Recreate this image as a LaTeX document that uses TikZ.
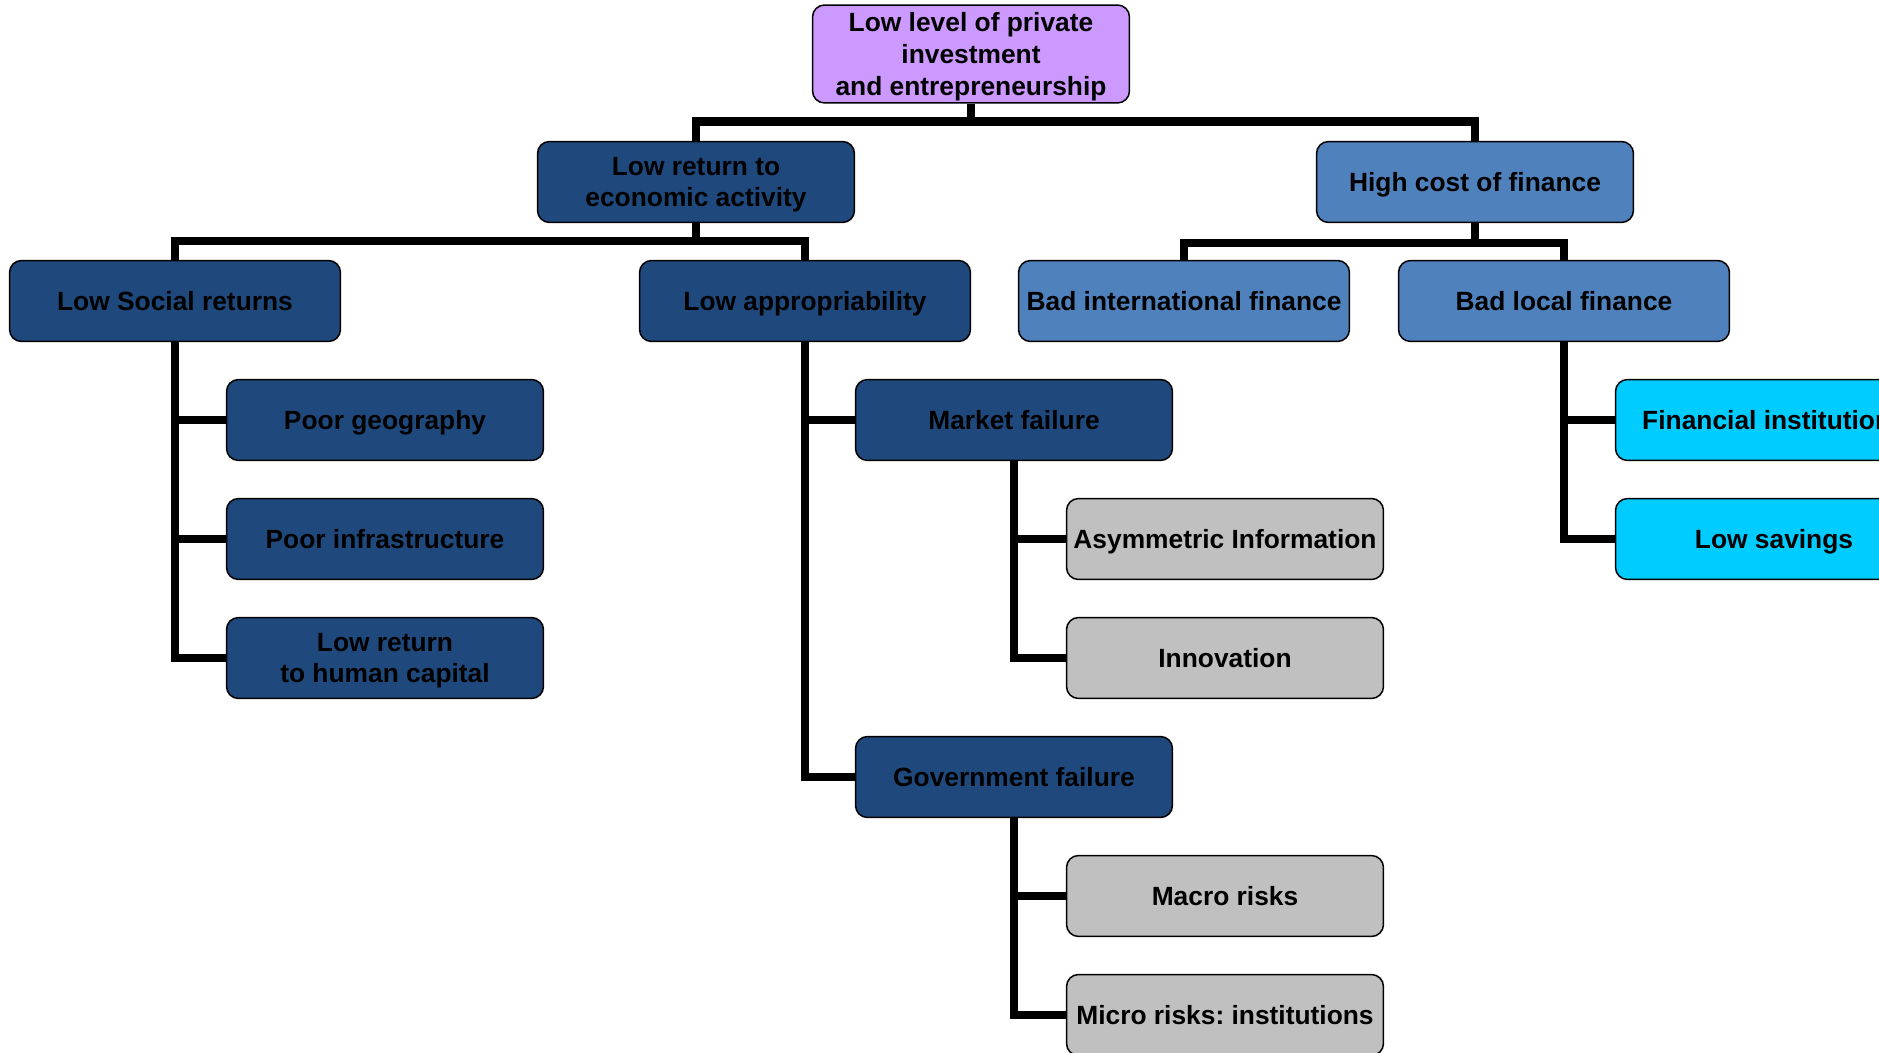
\documentclass[tikz,border=0pt]{standalone}
\usepackage{fontspec}
\setmainfont{Liberation Sans}
\usetikzlibrary{positioning}
\frenchspacing

\definecolor{topviolet}{RGB}{204,153,255}
\definecolor{darkblue}{RGB}{31,73,125}
\definecolor{midblue}{RGB}{79,129,189}
\definecolor{skyblue}{RGB}{0,204,255}
\definecolor{lightgray}{RGB}{192,192,192}

\tikzset{
  box/.style={draw=black, line width=0.03cm, rounded corners=0.24cm,
    minimum width=6.34cm, minimum height=1.62cm, align=center,
    inner sep=0pt, text depth=0pt, font=\fontsize{15}{18}\selectfont\bfseries},
  rootbox/.style={box, fill=topviolet, minimum height=1.96cm},
  darkbox/.style={box, fill=darkblue},
  widebox/.style={box, minimum width=6.62cm},
  finbox/.style={box, fill=midblue},
  cyanbox/.style={box, fill=skyblue},
  graybox/.style={box, fill=lightgray},
  link/.style={line width=0.17cm, line join=miter}
}

\begin{document}
\begin{tikzpicture}[x=0.02cm,y=-0.02cm]
  \clip (0,0) rectangle (1879,1053);
  \fill[white] (0,0) rectangle (1879,1053);

  % top of the tree
  \node[rootbox] (root) at (971,54) {Low level of private\\investment\\and entrepreneurship};
  \node[darkbox] (ret) at (696,182) {Low return to\\economic activity};
  \node[finbox] (fin) at (1475,182) {High cost of finance};

  % second row
  \node[darkbox,widebox] (soc) at (175,301) {Low Social returns};
  \node[darkbox,widebox] (app) at (805,301) {Low appropriability};
  \node[finbox,widebox] (intl) at (1184,301) {Bad international finance};
  \node[finbox,widebox] (loc) at (1564,301) {Bad local finance};

  % social returns
  \node[darkbox] (geo) at (385,420) {Poor geography};
  \node[darkbox] (infra) at (385,539) {Poor infrastructure};
  \node[darkbox] (human) at (385,658) {Low return\\to human capital};

  % appropriability
  \node[darkbox] (mkt) at (1014,420) {Market failure};
  \node[graybox] (asym) at (1225,539) {Asymmetric Information};
  \node[graybox] (innov) at (1225,658) {Innovation};
  \node[darkbox] (gov) at (1014,777) {Government failure};
  \node[graybox] (macro) at (1225,896) {Macro risks};
  \node[graybox] (micro) at (1225,1015) {Micro risks: institutions};

  % local finance
  \node[cyanbox] (inst) at (1774,420) {Financial institutions};
  \node[cyanbox] (sav) at (1774,539) {Low savings};

  \draw[link] (root.south) -- ++(0,18) -| (ret.north);
  \draw[link] (root.south) -- ++(0,18) -| (fin.north);
  \draw[link] (ret.south) -- ++(0,18) -| (soc.north);
  \draw[link] (ret.south) -- ++(0,18) -| (app.north);
  \draw[link] (fin.south) -- ++(0,20) -| (intl.north);
  \draw[link] (fin.south) -- ++(0,20) -| (loc.north);

  \draw[link] (soc.south) |- (geo.west);
  \draw[link] (soc.south) |- (infra.west);
  \draw[link] (soc.south) |- (human.west);
  \draw[link] (app.south) |- (mkt.west);
  \draw[link] (app.south) |- (gov.west);
  \draw[link] (mkt.south) |- (asym.west);
  \draw[link] (mkt.south) |- (innov.west);
  \draw[link] (gov.south) |- (macro.west);
  \draw[link] (gov.south) |- (micro.west);
  \draw[link] (loc.south) |- (inst.west);
  \draw[link] (loc.south) |- (sav.west);
\end{tikzpicture}
\end{document}
